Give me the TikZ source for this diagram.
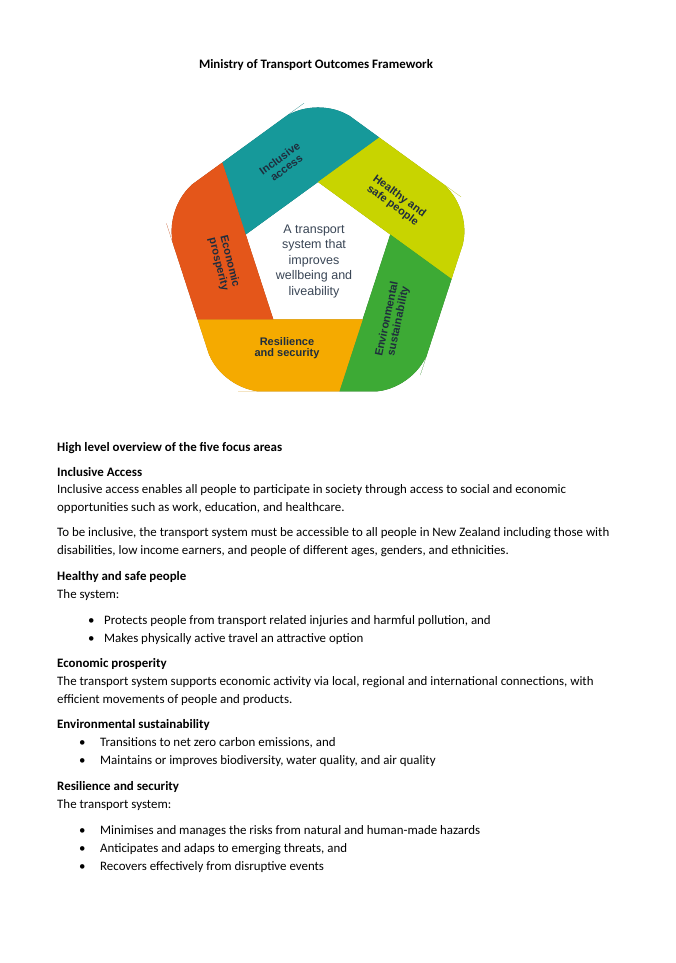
\documentclass[tikz,border=0pt]{standalone}
\usepackage{fontspec}
\setmainfont{Carlito}
\newfontfamily\arialf{Liberation Sans}
\usetikzlibrary{calc}
\definecolor{cteal}{HTML}{16999A}
\definecolor{cyel}{HTML}{C8D400}
\definecolor{cgreen}{HTML}{3DAA35}
\definecolor{corange}{HTML}{F5AA00}
\definecolor{cred}{HTML}{E4561A}
\definecolor{labtxt}{HTML}{1F2D3D}
\definecolor{centxt}{HTML}{3A4656}
\tikzset{
  body/.style={anchor=base west,inner sep=0pt,font=\fontsize{12.9}{18}\selectfont},
  head/.style={body,font=\fontsize{12.9}{18}\selectfont\bfseries},
  bul/.style={anchor=base west,inner sep=0pt,font=\fontsize{12.9}{18}\selectfont},
  lab/.style={font=\arialf\bfseries\fontsize{11}{11.5}\selectfont,text=labtxt,align=center,inner sep=0pt},
}
\newcommand\rw{76}
\newcommand\kk{75.7}
\newcommand\RR{165}
\newcommand\bandshape[2]{%
  \coordinate (bO) at ($(C)+(#1-72:\RR)$);
  \coordinate (bQ) at ($(C)+(#1-72:\rw)+(#1-126:\kk)$);
  \coordinate (bV) at ($(C)+(#1:\rw)$);
  \coordinate (bP) at ($(C)+(#1:\rw)+(#1-54:\kk)$);
  \coordinate (bM1) at ($(bO)!0.5!(bQ)$);
  \coordinate (bM2) at ($(bO)!0.5!(bP)$);
  \fill[#2] (bM1) [rounded corners=42] -- (bO) -- (bM2)
    [sharp corners] -- (bP) -- (bV) -- (bQ) -- cycle;}
\newcommand\shadowband[2]{%
  \begin{scope}[shift={(#1-126:9)}]\bandshape{#1}{#2}\end{scope}}
\begin{document}
\begin{tikzpicture}[x=1pt,y=1pt]
\useasboundingbox (0,0) rectangle (675,-963);
\fill[white] (0,0) rectangle (675,-963);
\coordinate (C) at (318,-258);
% shadows
\shadowband{162}{cteal!65!black}
\shadowband{90}{cyel!70!black}
\shadowband{18}{cgreen!65!black}
\shadowband{-54}{corange!70!black}
\shadowband{-126}{cred!65!black}
% bands
\bandshape{162}{cteal}
\bandshape{90}{cyel}
\bandshape{18}{cgreen}
\bandshape{-54}{corange}
\bandshape{-126}{cred}
% labels
\node[lab,rotate=36] (la) at (283,-163) {Inclusive\\access};
\node[lab,rotate=-36] (lb) at (396,-201) {Healthy and\\safe people};
\node[lab,rotate=-76] (lc) at (224,-263) {Economic\\prosperity};
\node[lab,rotate=78] (ld) at (393,-320) {Environmental\\sustainability};
\node[lab] (le) at (287,-348) {Resilience\\and security};
\node[align=center,font=\arialf\fontsize{12.5}{15.5}\selectfont,text=centxt,inner sep=0pt] (ctr) at (314,-261)
  {A transport\\system that\\improves\\wellbeing and\\liveability};
% title
\node[head,anchor=base] (t) at (316,-69) {Ministry of Transport Outcomes Framework};
% text
\node[head] (h0) at (57,-451) {High level overview of the five focus areas};
\node[head] (h1) at (57,-476) {Inclusive Access};
\node[body] (p1) at (57,-493) {Inclusive access enables all people to participate in society through access to social and economic};
\node[body] (p2) at (57,-511) {opportunities such as work, education, and healthcare.};
\node[body] (p3) at (57,-536) {To be inclusive, the transport system must be accessible to all people in New Zealand including those with};
\node[body] (p4) at (57,-554) {disabilities, low income earners, and people of different ages, genders, and ethnicities.};
\node[head] (h2) at (57,-580) {Healthy and safe people};
\node[body] (p5) at (57,-598) {The system:};
\node[bul] (b1) at (88,-624) {•};
\node[body] (p6) at (104,-624) {Protects people from transport related injuries and harmful pollution, and};
\node[bul] (b2) at (88,-642) {•};
\node[body] (p7) at (104,-642) {Makes physically active travel an attractive option};
\node[head] (h3) at (57,-667) {Economic prosperity};
\node[body] (p8) at (57,-685) {The transport system supports economic activity via local, regional and international connections, with};
\node[body] (p9) at (57,-703) {efficient movements of people and products.};
\node[head] (h4) at (57,-728) {Environmental sustainability};
\node[bul] (b3) at (79,-746) {•};
\node[body] (p10) at (100,-746) {Transitions to net zero carbon emissions, and};
\node[bul] (b4) at (79,-764) {•};
\node[body] (p11) at (100,-764) {Maintains or improves biodiversity, water quality, and air quality};
\node[head] (h5) at (57,-790) {Resilience and security};
\node[body] (p12) at (57,-808) {The transport system:};
\node[bul] (b5) at (79,-834) {•};
\node[body] (p13) at (100,-834) {Minimises and manages the risks from natural and human-made hazards};
\node[bul] (b6) at (79,-852) {•};
\node[body] (p14) at (100,-852) {Anticipates and adaps to emerging threats, and};
\node[bul] (b7) at (79,-870) {•};
\node[body] (p15) at (100,-870) {Recovers effectively from disruptive events};
\end{tikzpicture}
\end{document}
